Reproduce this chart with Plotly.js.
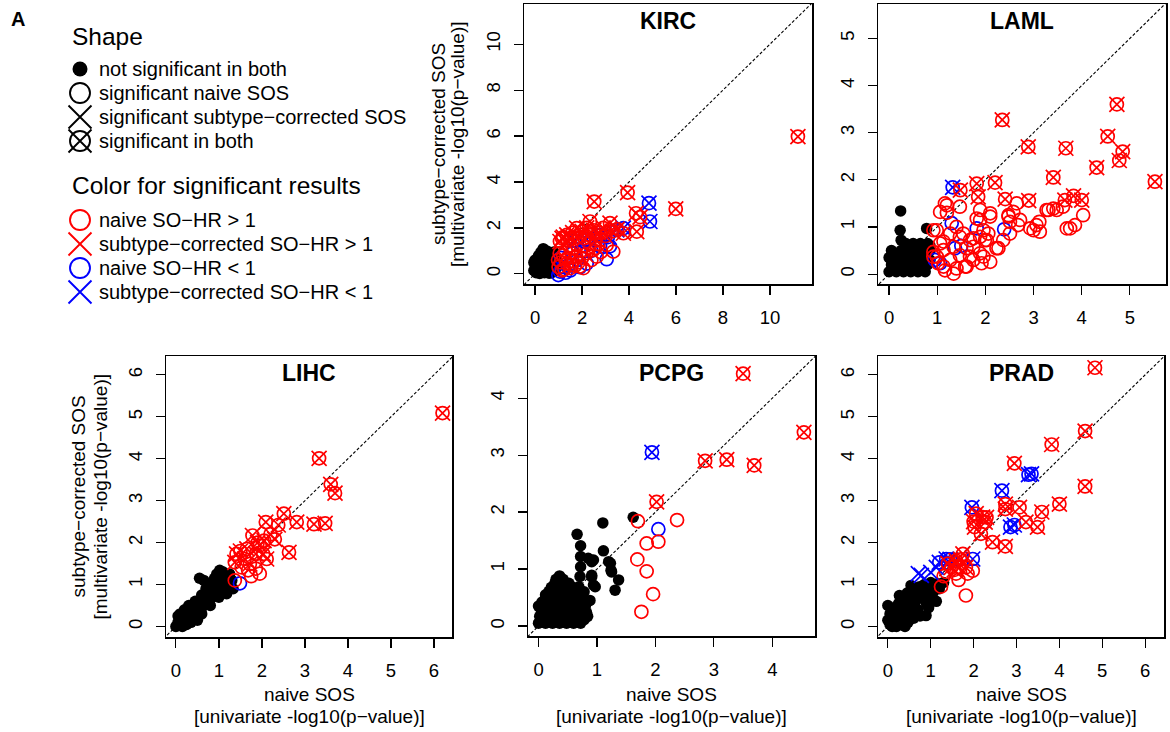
<!DOCTYPE html>
<html>
<head>
<meta charset="utf-8">
<script src="https://cdn.plot.ly/plotly-3.0.1.min.js"></script>
<style>html,body{margin:0;padding:0;background:#fff;}#chart{width:1170px;height:732px;}</style>
</head>
<body>
<div id="chart"></div>
<script>
// ---------- DATA ----------
var panelNames = ["KIRC", "LAML", "LIHC", "PCPG", "PRAD"];
var shapeLabels = ["not significant in both", "significant naive SOS", "significant subtype\u2212corrected SOS", "significant in both"];
var colorLabels = ["naive SO\u2212HR > 1", "subtype\u2212corrected SO\u2212HR > 1", "naive SO\u2212HR < 1", "subtype\u2212corrected SO\u2212HR < 1"];
var kircTicks = [0, 2, 4, 6, 8, 10];
var lamlTicks = [0, 1, 2, 3, 4, 5];
var lihcTicks = [0, 1, 2, 3, 4, 5, 6];
var pcpgTicks = [0, 1, 2, 3, 4];
var pradTicks = [0, 1, 2, 3, 4, 5, 6];

// KIRC
var kircNs = [[0.05,0.05],[0.2,0.02],[0.4,0.05],[0.6,0.03],[0.8,0.1],[0.1,0.2],[0.3,0.25],[0.5,0.2],[0.7,0.3],[0.9,0.25],[0.0,0.4],[0.2,0.45],[0.4,0.4],[0.6,0.5],[0.8,0.45],[0.15,0.6],[0.35,0.65],[0.55,0.7],[0.75,0.6],[0.45,0.85],[0.6,0.9],[0.3,0.8],[0.7,0.8],[0.95,0.5],[0.05,0.3],[0.1,0.1],[0.25,0.1],[0.5,0.35],[0.65,0.15],[0.85,0.35],[0.9,0.7],[0.5,1.0],[0.2,0.3],[-0.05,0.15],[0.35,1.1],[0.15,0.8],[0.0,0.6],[0.3,0.45],[0.7,0.05],[0.85,0.6],[0.45,0.6],[0.25,0.95],[0.8,0.95],[-0.05,0.5]];
var kircRedNaive = [[1.0,0.3],[1.1,0.5],[1.2,0.8],[1.25,0.2],[1.3,1.0],[1.35,0.45],[1.4,0.7],[1.45,1.2],[1.5,0.25],[1.55,0.9],[1.6,0.55],[1.65,1.1],[1.7,0.35],[1.75,0.75],[1.8,1.25],[1.85,0.5],[1.9,0.32],[1.95,1.0],[2.0,0.7],[2.06,0.25],[2.1,1.2],[2.2,0.9],[2.3,1.3],[2.4,0.6],[2.48,1.04],[2.55,1.12],[2.62,0.75],[2.7,1.3],[2.8,0.95],[3.05,1.26],[3.33,0.97],[1.56,0.39],[1.15,0.15],[0.98,0.6],[1.05,0.9],[1.3,0.6]];
var kircBlueNaive = [[0.99,-0.05],[1.06,0.1],[1.2,0.3],[1.3,0.05],[1.4,0.35],[1.5,0.15],[1.91,0.29],[1.8,0.6],[2.2,0.45],[2.77,1.19],[3.05,0.64],[3.19,1.2],[1.1,0.7],[1.6,0.9],[2.4,1.0]];
var kircRedBoth = [[1.06,1.41],[1.2,1.6],[1.35,1.7],[1.5,1.5],[1.6,1.8],[1.77,1.99],[1.9,1.6],[2.0,1.85],[2.1,1.55],[2.34,2.28],[2.3,1.7],[2.5,1.9],[2.6,1.5],[2.7,1.8],[2.9,2.0],[3.0,1.65],[3.19,2.21],[3.3,1.85],[3.5,1.95],[3.76,1.77],[4.33,1.84],[4.3,2.64],[4.47,2.47],[5.99,2.83],[2.52,3.15],[3.94,3.54],[11.19,5.98],[1.4,1.45],[2.2,2.0],[1.15,1.55]];
var kircBlueBoth = [[4.85,3.08],[4.89,2.28],[3.76,1.99],[3.48,1.92],[2.8,1.7],[2.2,1.5],[1.7,1.45],[3.1,1.6]];

// LAML
var lamlNs = [[0.0,0.05],[0.15,0.05],[0.3,0.05],[0.45,0.05],[0.6,0.05],[0.75,0.05],[0.05,0.2],[0.2,0.2],[0.35,0.2],[0.5,0.2],[0.65,0.2],[0.8,0.2],[0.0,0.35],[0.15,0.35],[0.3,0.35],[0.45,0.35],[0.6,0.35],[0.75,0.35],[0.05,0.5],[0.25,0.5],[0.4,0.5],[0.55,0.5],[0.7,0.5],[0.85,0.5],[0.35,0.65],[0.5,0.65],[0.65,0.65],[0.8,0.65],[0.24,1.34],[0.23,0.93],[0.78,0.97],[0.25,0.72],[0.85,0.6],[0.1,0.12],[0.4,0.12],[0.7,0.12],[0.25,0.28],[0.55,0.28],[0.85,0.3],[0.1,0.42],[0.35,0.42],[0.65,0.42]];
var lamlRedNaive = [[1.06,1.32],[1.2,1.46],[1.89,1.36],[2.1,1.22],[1.82,1.18],[2.48,1.25],[2.51,1.11],[2.68,1.04],[2.65,1.5],[2.93,0.97],[3.13,0.9],[3.06,1.04],[3.27,1.36],[3.41,1.39],[3.61,1.43],[3.69,0.97],[1.96,0.93],[2.03,0.72],[2.23,0.55],[1.96,0.37],[2.1,0.26],[1.75,0.3],[1.61,0.16],[1.47,0.4],[1.4,0.12],[1.27,0.3],[1.13,0.16],[1.34,0.01],[0.99,0.37],[0.92,0.47],[1.06,0.65],[1.34,0.58],[1.47,0.79],[1.27,0.86],[0.99,0.93],[1.4,1.0],[1.54,0.86],[1.68,0.72],[1.75,0.58],[1.89,0.79],[2.06,0.86],[1.61,0.55],[1.13,0.51],[1.16,1.5],[2.72,1.15],[3.12,1.11],[3.0,0.93],[3.31,1.36],[3.48,1.36],[3.76,0.97],[3.86,1.04],[4.03,1.25],[2.58,1.32],[2.48,1.22],[2.51,0.86],[2.37,0.72],[2.27,0.55],[1.92,0.23],[1.89,0.44],[1.68,0.37],[1.58,0.16],[1.16,0.08],[1.02,0.23],[0.92,0.37],[1.13,0.69],[1.75,0.76],[1.99,0.72],[1.89,1.15],[2.1,1.29],[0.92,0.93],[1.2,1.3],[1.47,1.43]];
var lamlBlueNaive = [[1.3,1.08],[1.82,0.97],[2.39,0.95],[1.37,0.55],[1.06,0.23],[1.5,0.6],[0.95,0.3]];
var lamlRedBoth = [[2.35,3.27],[2.89,2.7],[3.67,2.67],[4.73,3.6],[4.54,2.92],[4.85,2.6],[4.78,2.41],[4.31,2.26],[3.41,2.05],[5.52,1.96],[2.2,1.94],[1.82,1.92],[1.85,1.64],[2.41,1.59],[2.9,1.56],[3.65,1.57],[3.83,1.66],[4.0,1.57],[1.48,1.78]];
var lamlBlueBoth = [[1.32,1.84]];

// LIHC
var lihcNs = [[0.0,0.0],[0.05,0.1],[0.1,0.05],[0.15,0.2],[0.2,0.1],[0.1,0.3],[0.25,0.3],[0.3,0.15],[0.35,0.35],[0.2,0.4],[0.4,0.25],[0.45,0.45],[0.3,0.5],[0.5,0.35],[0.55,0.55],[0.6,0.45],[0.45,0.6],[0.65,0.65],[0.7,0.55],[0.6,0.75],[0.75,0.8],[0.8,0.65],[0.7,0.9],[0.85,0.85],[0.9,0.75],[0.8,1.0],[0.95,0.95],[1.0,0.85],[0.65,1.1],[0.55,1.15],[1.05,1.05],[1.1,0.95],[1.02,1.34],[1.15,1.2],[1.2,1.05],[1.25,1.25],[1.3,1.1],[1.18,0.78],[1.33,0.9],[0.9,1.15],[1.1,1.3],[0.35,0.1],[0.05,0.25],[0.15,0.0],[0.25,0.05],[0.6,0.3],[0.8,0.5],[1.0,0.7],[0.5,0.15],[0.95,1.25]];
var lihcRedNaive = [[1.95,1.26],[1.68,1.34],[1.37,1.1],[1.86,1.38],[1.53,1.41],[1.75,1.2]];
var lihcBlueNaive = [[1.49,1.03]];
var lihcRedBoth = [[6.2,5.09],[3.33,4.01],[3.6,3.39],[3.7,3.18],[2.51,2.69],[2.81,2.49],[3.21,2.44],[3.47,2.46],[2.09,2.49],[2.38,2.42],[1.78,2.17],[2.3,2.08],[2.63,1.77],[1.95,1.93],[2.11,1.61],[2.03,1.73],[1.41,1.73],[1.6,1.61],[1.37,1.53],[1.72,1.49],[1.86,1.73],[1.5,1.8],[1.65,1.85],[2.2,2.2],[1.9,2.0],[2.05,2.05]];

// PCPG
var pcpgNs = [[0.0,0.05],[0.12,0.05],[0.24,0.05],[0.36,0.05],[0.48,0.05],[0.6,0.05],[0.72,0.05],[0.02,0.17],[0.14,0.17],[0.26,0.17],[0.38,0.17],[0.5,0.17],[0.62,0.17],[0.74,0.17],[0.84,0.17],[0.04,0.3],[0.16,0.3],[0.28,0.3],[0.4,0.3],[0.52,0.3],[0.64,0.3],[0.76,0.3],[0.06,0.42],[0.18,0.42],[0.3,0.42],[0.42,0.42],[0.54,0.42],[0.66,0.42],[0.12,0.55],[0.24,0.55],[0.36,0.55],[0.48,0.55],[0.6,0.55],[0.72,0.55],[0.22,0.68],[0.34,0.68],[0.46,0.68],[0.58,0.68],[0.3,0.82],[0.42,0.82],[1.62,1.91],[1.1,1.81],[0.66,1.61],[1.11,1.32],[0.72,1.41],[0.72,1.22],[0.72,1.04],[0.71,0.87],[0.69,0.69],[0.85,1.19],[0.94,1.16],[0.91,0.89],[0.97,0.69],[1.23,1.1],[1.24,0.98],[1.37,0.81],[1.31,0.63],[0.8,0.35],[0.88,0.45],[0.91,1.13],[1.2,1.13],[1.25,0.95],[0.91,0.86],[0.94,0.72],[0.06,0.11],[0.18,0.11],[0.3,0.11],[0.42,0.11],[0.54,0.11],[0.66,0.11],[0.78,0.11],[0.1,0.24],[0.22,0.24],[0.34,0.24],[0.46,0.24],[0.58,0.24],[0.7,0.24],[0.82,0.24],[0.1,0.36],[0.22,0.36],[0.34,0.36],[0.46,0.36],[0.58,0.36],[0.7,0.36],[0.82,0.4],[0.12,0.48],[0.24,0.48],[0.36,0.48],[0.48,0.48],[0.6,0.48],[0.72,0.48],[0.18,0.61],[0.3,0.61],[0.42,0.61],[0.54,0.61],[0.66,0.61],[0.28,0.75],[0.4,0.75],[0.52,0.75],[0.36,0.88],[0.0,0.35],[0.78,0.6]];
var pcpgRedNaive = [[1.7,1.84],[2.37,1.86],[1.85,1.45],[2.05,1.48],[1.69,1.17],[1.85,0.96],[1.96,0.56],[1.76,0.25]];
var pcpgBlueNaive = [[2.05,1.7]];
var pcpgRedBoth = [[3.5,4.43],[4.54,3.4],[2.85,2.9],[3.22,2.92],[3.69,2.82],[2.02,2.18]];
var pcpgBlueBoth = [[1.94,3.05]];

// PRAD
var pradNs = [[0.05,0.05],[0.15,0.1],[0.1,0.2],[0.25,0.15],[0.05,0.3],[0.2,0.3],[0.35,0.25],[0.15,0.45],[0.3,0.4],[0.45,0.35],[0.0,0.5],[0.25,0.55],[0.4,0.55],[0.55,0.45],[0.35,0.7],[0.5,0.65],[0.65,0.6],[0.27,0.74],[0.54,0.98],[0.6,0.8],[0.74,0.95],[0.75,0.75],[0.85,0.7],[0.97,0.9],[0.9,0.55],[1.16,1.02],[1.05,0.8],[1.13,0.6],[0.89,0.26],[0.47,0.1],[1.2,0.9],[0.95,0.45],[0.7,0.4],[0.3,0.05],[0.6,0.2],[1.3,1.05],[1.0,1.05],[0.8,0.85],[0.43,0.18],[0.1,0.0],[0.0,0.15],[0.2,0.0],[0.1,0.38],[0.4,0.0],[0.55,0.3],[0.75,0.25],[1.0,0.6],[0.85,1.0],[0.65,0.9],[0.45,0.8],[1.1,0.95]];
var pradRedNaive = [[1.24,0.95],[1.82,0.74],[1.65,1.11],[1.98,1.33],[1.36,1.3],[1.86,1.26],[1.59,1.26],[1.3,1.2]];
var pradRedBoth = [[4.83,6.17],[4.6,4.66],[3.82,4.34],[2.95,3.89],[4.6,3.34],[4.0,2.92],[3.59,2.73],[3.49,2.37],[3.22,2.49],[3.07,2.84],[2.74,2.92],[2.74,2.8],[2.74,1.91],[2.44,2.01],[2.17,2.21],[2.21,2.61],[2.06,2.69],[2.02,2.37],[2.27,2.49],[2.3,2.6],[2.0,2.5],[1.75,1.73],[1.59,1.57],[1.48,1.41],[1.67,1.41],[1.82,1.41],[1.7,1.6],[1.4,1.5],[1.55,1.35]];
var pradBlueBoth = [[3.35,3.64],[3.28,3.62],[2.66,3.24],[1.96,2.84],[2.86,2.37],[2.95,2.42],[1.98,1.61],[1.36,1.61],[1.2,1.53],[1.45,1.6]];
var pradBlueSub = [[0.71,1.26],[0.78,1.22],[1.13,1.41],[1.0,1.29]];

// ---------- LAYOUT HELPERS ----------
var W = 1170, H = 732;
var RED = "#FF0000", BLUE = "#0000FF", BLACK = "#000000";
var FONT = "Liberation Sans, Arial, Helvetica, sans-serif";
var panels = [
  {name: panelNames[0], box: [524, 4, 812, 284], xr: [-0.47, 11.79], yr: [-0.44, 11.75], ticks: kircTicks,
   ns: kircNs, redNaive: kircRedNaive, blueNaive: kircBlueNaive, redBoth: kircRedBoth, blueBoth: kircBlueBoth, blueSub: []},
  {name: panelNames[1], box: [878, 4, 1166, 284], xr: [-0.23, 5.75], yr: [-0.21, 5.73], ticks: lamlTicks,
   ns: lamlNs, redNaive: lamlRedNaive, blueNaive: lamlBlueNaive, redBoth: lamlRedBoth, blueBoth: lamlBlueBoth, blueSub: []},
  {name: panelNames[2], box: [166, 356, 452, 637], xr: [-0.23, 6.42], yr: [-0.25, 6.45], ticks: lihcTicks,
   ns: lihcNs, redNaive: lihcRedNaive, blueNaive: lihcBlueNaive, redBoth: lihcRedBoth, blueBoth: [], blueSub: []},
  {name: panelNames[3], box: [528, 356, 815, 636], xr: [-0.18, 4.73], yr: [-0.175, 4.74], ticks: pcpgTicks,
   ns: pcpgNs, redNaive: pcpgRedNaive, blueNaive: pcpgBlueNaive, redBoth: pcpgRedBoth, blueBoth: pcpgBlueBoth, blueSub: []},
  {name: panelNames[4], box: [878, 356, 1164, 637], xr: [-0.23, 6.44], yr: [-0.25, 6.45], ticks: pradTicks,
   ns: pradNs, redNaive: pradRedNaive, blueNaive: [], redBoth: pradRedBoth, blueBoth: pradBlueBoth, blueSub: pradBlueSub}
];

function col(arr, i) { return arr.map(function (p) { return p[i]; }); }

var traces = [];
var layout = {
  width: W, height: H, margin: {l: 0, r: 0, t: 0, b: 0},
  paper_bgcolor: "#fff", plot_bgcolor: "rgba(0,0,0,0)",
  showlegend: false, font: {family: FONT, color: BLACK},
  annotations: [], shapes: []
};

var CIRC = 13, XS = 15, DOT = 11.5, LW = 1.7;

panels.forEach(function (p, k) {
  var n = k === 0 ? "" : String(k + 1);
  var xa = "x" + n, ya = "y" + n;
  layout["xaxis" + n] = {
    domain: [p.box[0] / W, p.box[2] / W], range: p.xr, anchor: ya,
    showgrid: false, zeroline: false, showline: true, mirror: true, linecolor: BLACK, linewidth: 1.5,
    ticks: "outside", ticklen: 9, tickwidth: 1.2, tickcolor: BLACK,
    tickmode: "array", tickvals: p.ticks, ticktext: p.ticks.map(String),
    tickfont: {size: 18.5, family: FONT, color: BLACK}, ticklabelstandoff: 7, fixedrange: true
  };
  layout["yaxis" + n] = {
    domain: [1 - p.box[3] / H, 1 - p.box[1] / H], range: p.yr, anchor: xa,
    showgrid: false, zeroline: false, showline: true, mirror: true, linecolor: BLACK, linewidth: 1.5,
    ticks: "outside", ticklen: 9, tickwidth: 1.2, tickcolor: BLACK,
    tickmode: "array", tickvals: p.ticks, ticktext: p.ticks.map(String), tickangle: -90,
    tickfont: {size: 18.5, family: FONT, color: BLACK}, ticklabelstandoff: 6, fixedrange: true
  };
  traces.push({x: [-100, 100], y: [-100, 100], xaxis: xa, yaxis: ya, mode: "lines",
    line: {color: BLACK, width: 1.1, dash: "3px,2px"}, hoverinfo: "skip"});
  function pts(arr, symbol, color, size, fill) {
    if (!arr.length) return;
    traces.push({x: col(arr, 0), y: col(arr, 1), xaxis: xa, yaxis: ya, mode: "markers",
      marker: {symbol: symbol, size: size, color: color, line: {width: fill ? 0 : LW, color: color}},
      hoverinfo: "x+y"});
  }
  pts(p.ns, "circle", BLACK, DOT, true);
  pts(p.blueNaive, "circle-open", BLUE, CIRC);
  pts(p.redNaive, "circle-open", RED, CIRC);
  pts(p.blueBoth, "circle-open", BLUE, CIRC);
  pts(p.blueBoth, "x-thin-open", BLUE, XS);
  pts(p.blueSub, "x-thin-open", BLUE, XS);
  pts(p.redBoth, "circle-open", RED, CIRC);
  pts(p.redBoth, "x-thin-open", RED, XS);
  layout.annotations.push({xref: "paper", yref: "paper", x: (p.box[0] + p.box[2]) / 2 / W, y: 1 - (p.box[1] + 17) / H,
    xanchor: "center", yanchor: "middle", showarrow: false, text: "<b>" + p.name + "</b>",
    font: {size: 23, family: FONT, color: BLACK}});
});

var yT1 = "subtype\u2212corrected SOS", yT2 = "[multivariate -log10(p\u2212value)]";
var xT1 = "naive SOS", xT2 = "[univariate -log10(p\u2212value)]";
function ann(x, y, text, size, opts) {
  var a = {xref: "paper", yref: "paper", x: x / W, y: 1 - y / H, text: text, showarrow: false,
    xanchor: "center", yanchor: "middle", font: {size: size, family: FONT, color: BLACK}};
  for (var key in opts) a[key] = opts[key];
  layout.annotations.push(a);
}
[[0, 438, 457], [2, 78, 100]].forEach(function (d) {
  var b = panels[d[0]].box, cy = (b[1] + b[3]) / 2;
  ann(d[1], cy, yT1, 19, {textangle: -90});
  ann(d[2], cy, yT2, 19, {textangle: -90});
});
[2, 3, 4].forEach(function (k) {
  var b = panels[k].box, cx = (b[0] + b[2]) / 2;
  ann(cx, 694, xT1, 19, {});
  ann(cx, 716, xT2, 19, {});
});

ann(18, 19, "<b>A</b>", 20, {});

// ---------- LEGEND (own hidden axes in pixel units) ----------
var LW_PX = 468, LH_PX = 307;
layout.xaxis6 = {domain: [0, LW_PX / W], range: [0, LW_PX], visible: false, fixedrange: true, anchor: "y6"};
layout.yaxis6 = {domain: [1 - LH_PX / H, 1], range: [LH_PX, 0], visible: false, fixedrange: true, anchor: "x6"};
var legX = 80, textX = 97;
var shapeY0 = 69, colorY0 = 220, rowGap = 24;
function legPt(row0, i, symbol, color, size, lw) {
  traces.push({x: [legX], y: [row0 + i * rowGap], xaxis: "x6", yaxis: "y6", mode: "markers", cliponaxis: false,
    marker: {symbol: symbol, size: size, color: color, line: {width: lw, color: color}}, hoverinfo: "skip"});
}
legPt(shapeY0, 0, "circle", BLACK, 15, 0);
legPt(shapeY0, 1, "circle-open", BLACK, 20, 1.9);
legPt(shapeY0, 2, "x-thin-open", BLACK, 23, 1.9);
legPt(shapeY0, 3, "circle-open", BLACK, 20, 1.9);
legPt(shapeY0, 3, "x-thin-open", BLACK, 23, 1.9);
legPt(colorY0, 0, "circle-open", RED, 20, 1.9);
legPt(colorY0, 1, "x-thin-open", RED, 23, 1.9);
legPt(colorY0, 2, "circle-open", BLUE, 20, 1.9);
legPt(colorY0, 3, "x-thin-open", BLUE, 23, 1.9);
ann(70, 36, "Shape", 24.5, {xanchor: "left"});
ann(70, 185, "Color for significant results", 24.5, {xanchor: "left"});
shapeLabels.forEach(function (t, i) { ann(textX, shapeY0 + i * rowGap, t, 20, {xanchor: "left"}); });
colorLabels.forEach(function (t, i) { ann(textX, colorY0 + i * rowGap, t, 20, {xanchor: "left"}); });

Plotly.newPlot("chart", traces, layout, {staticPlot: true, displayModeBar: false});
</script>
</body>
</html>
